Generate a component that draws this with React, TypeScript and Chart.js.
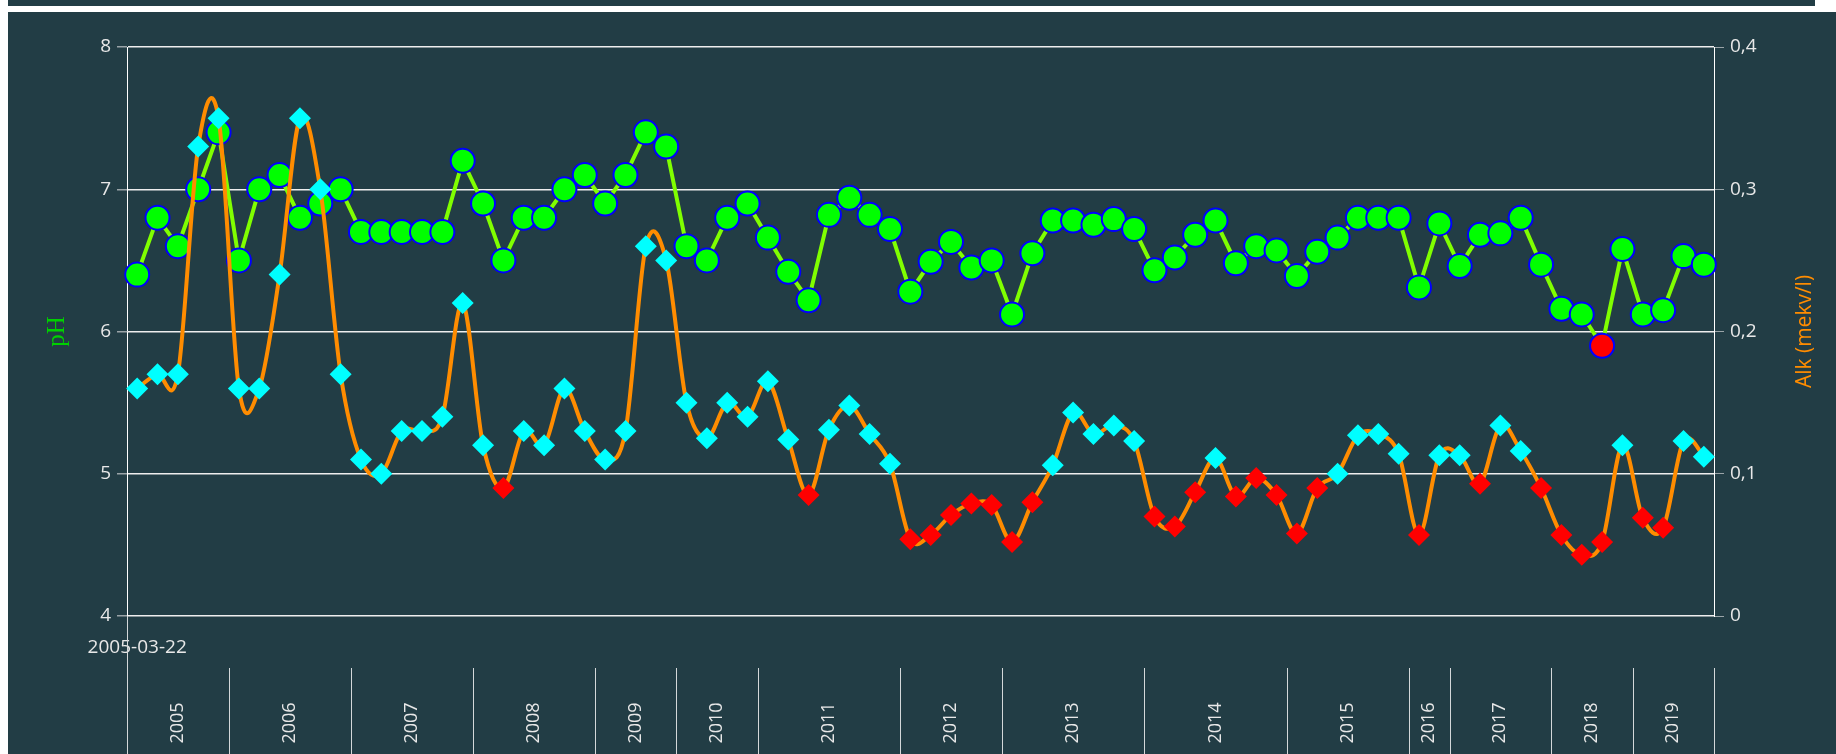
import React, { useEffect, useRef } from 'react';
import { Chart, registerables } from 'chart.js';

Chart.register(...registerables);

// ---------- data ----------
const firstDate = '2005-03-22';
const yearLabels = ['2005', '2006', '2007', '2008', '2009', '2010', '2011', '2012', '2013', '2014', '2015', '2016', '2017', '2018', '2019'];
const yearCounts = [5, 6, 6, 6, 4, 4, 7, 5, 7, 7, 6, 2, 5, 4, 4];

const phValues = [
  6.4, 6.8, 6.6, 7.0, 7.4, 6.5, 7.0, 7.1, 6.8, 6.9, 7.0, 6.7, 6.7, 6.7, 6.7, 6.7,
  7.2, 6.9, 6.5, 6.8, 6.8, 7.0, 7.1, 6.9, 7.1, 7.4, 7.3, 6.6, 6.5, 6.8, 6.9,
  6.66, 6.42, 6.22, 6.82, 6.94, 6.82, 6.72, 6.28, 6.49, 6.63, 6.45, 6.5, 6.12, 6.55, 6.78, 6.78,
  6.75, 6.79, 6.72, 6.43, 6.52, 6.68, 6.78, 6.48, 6.6, 6.57, 6.39, 6.56, 6.66, 6.8, 6.8, 6.8,
  6.31, 6.76, 6.46, 6.68, 6.69, 6.8, 6.47, 6.16, 6.12, 5.9, 6.58, 6.12, 6.15, 6.53, 6.47,
];

const alkValues = [
  0.16, 0.17, 0.17, 0.33, 0.35, 0.16, 0.16, 0.24, 0.35, 0.30, 0.17, 0.11, 0.10, 0.13, 0.13, 0.14,
  0.22, 0.12, 0.09, 0.13, 0.12, 0.16, 0.13, 0.11, 0.13, 0.26, 0.25, 0.15, 0.125, 0.15, 0.14,
  0.165, 0.124, 0.085, 0.131, 0.148, 0.128, 0.107, 0.054, 0.057, 0.071, 0.079, 0.078, 0.052, 0.080, 0.106, 0.143,
  0.128, 0.134, 0.123, 0.070, 0.063, 0.087, 0.111, 0.084, 0.097, 0.085, 0.058, 0.090, 0.100, 0.127, 0.128, 0.114,
  0.057, 0.113, 0.113, 0.093, 0.134, 0.116, 0.090, 0.057, 0.043, 0.052, 0.120, 0.069, 0.062, 0.123, 0.112,
];

const phTicks = [4, 5, 6, 7, 8];
const alkTicks = [0, 0.1, 0.2, 0.3, 0.4];
const alkTickLabels = ['0', '0,1', '0,2', '0,3', '0,4'];
const phTitle = 'pH';
const alkTitle = 'Alk (mekv/l)';
const phLimit = 6;
const alkLimit = 0.1;

const categories: string[] = yearLabels.flatMap((y, i) => Array(yearCounts[i]).fill(y));

// ---------- styles ----------
const BG = '#223d45';
const TEXT = '#e8e8e8';
const GRID = '#eeeeee';
const TICKMARK = '#9aa4a8';
const SANS = "'Open Sans', sans-serif";
const SMOOTH = 1 / 6;

export default function App() {
  const ref = useRef<HTMLCanvasElement>(null);

  useEffect(() => {
    const canvas = ref.current;
    if (!canvas) return;

    // Excel-like smoothing: control points from neighbouring points (uniform Catmull-Rom)
    const smoothPlugin = {
      id: 'excelSmooth',
      beforeDatasetDraw(chart: any, args: any) {
        const ds: any = chart.data.datasets[args.index];
        if (!ds.excelSmooth) return;
        const meta = args.meta;
        const pts = meta.data;
        const n = pts.length;
        for (let i = 0; i < n; i++) {
          const p = pts[i];
          const prev = pts[Math.max(0, i - 1)];
          const next = pts[Math.min(n - 1, i + 1)];
          const dx = (next.x - prev.x) * SMOOTH;
          const dy = (next.y - prev.y) * SMOOTH;
          p.cp1x = p.x - dx;
          p.cp1y = p.y - dy;
          p.cp2x = p.x + dx;
          p.cp2y = p.y + dy;
        }
        meta.dataset._pointsUpdated = true;
        meta.dataset._path = undefined;
      },
    };

    const bandPlugin = {
      id: 'yearBand',
      afterDraw(chart: any) {
        const { ctx, chartArea } = chart;
        const xs = chart.scales.x;
        const y1 = chart.scales.y1;
        const bandTop = chartArea.bottom + 52;
        const bottom = chart.height;
        ctx.save();
        // separators
        ctx.strokeStyle = '#d4d8d9';
        ctx.lineWidth = 1;
        let idx = 0;
        const bounds: number[] = [xs.getPixelForValue(-0.5)];
        yearCounts.forEach((c) => {
          idx += c;
          bounds.push(xs.getPixelForValue(idx - 0.5));
        });
        bounds.forEach((b, i) => {
          const x = Math.round(b) + 0.5;
          ctx.beginPath();
          ctx.moveTo(x, i === 0 ? chartArea.bottom : bandTop);
          ctx.lineTo(x, bottom);
          ctx.stroke();
        });
        // year labels
        ctx.fillStyle = TEXT;
        ctx.font = `18px ${SANS}`;
        ctx.textAlign = 'center';
        ctx.textBaseline = 'middle';
        yearLabels.forEach((y, i) => {
          const cx = (bounds[i] + bounds[i + 1]) / 2;
          ctx.save();
          ctx.translate(cx, bandTop + 55);
          ctx.rotate(-Math.PI / 2);
          ctx.fillText(y, 0, 0);
          ctx.restore();
        });
        // right axis title (reads bottom-to-top)
        ctx.fillStyle = '#ff8c00';
        ctx.font = `21px ${SANS}`;
        ctx.save();
        ctx.translate(y1.right - 31, (chartArea.top + chartArea.bottom) / 2);
        ctx.rotate(-Math.PI / 2);
        ctx.fillText(alkTitle, 0, 0);
        ctx.restore();
        ctx.restore();
      },
    };

    const chart = new Chart(canvas, {
      type: 'line',
      data: {
        labels: categories,
        datasets: [
          {
            label: alkTitle,
            data: alkValues,
            yAxisID: 'y1',
            borderColor: '#ff8c00',
            borderWidth: 4,
            tension: 0.4,
            excelSmooth: true,
            pointStyle: 'rectRot',
            pointRadius: 11,
            pointBorderWidth: 0,
            pointBackgroundColor: (c: any) => ((c.raw as number) < alkLimit ? '#ff0000' : '#00ffff'),
            pointBorderColor: (c: any) => ((c.raw as number) < alkLimit ? '#ff0000' : '#00ffff'),
          } as any,
          {
            label: phTitle,
            data: phValues,
            yAxisID: 'y',
            borderColor: '#80ff00',
            borderWidth: 4,
            tension: 0,
            pointStyle: 'circle',
            pointRadius: 12,
            pointBorderWidth: 2,
            pointBackgroundColor: (c: any) => ((c.raw as number) < phLimit ? '#ff0000' : '#00ff00'),
            pointBorderColor: '#0000ff',
          },
        ],
      },
      options: {
        animation: false,
        responsive: false,
        events: [],
        layout: { padding: { top: 35, left: 0, right: 0, bottom: 0 } },
        plugins: { legend: { display: false }, tooltip: { enabled: false } },
        scales: {
          x: {
            type: 'category',
            offset: true,
            grid: { display: false, drawTicks: false },
            border: { display: false },
            ticks: {
              autoSkip: false,
              maxRotation: 0,
              minRotation: 0,
              padding: 20,
              color: TEXT,
              font: { family: SANS, size: 19 },
              callback: (_v: any, i: number) => (i === 0 ? firstDate : ''),
            },
            afterFit: (s: any) => { s.height = 138; },
          },
          y: {
            position: 'left',
            min: 4,
            max: 8,
            afterBuildTicks: (s: any) => { s.ticks = phTicks.map((value) => ({ value })); },
            grid: { color: GRID, lineWidth: 1.5, tickColor: TICKMARK, tickLength: 10 },
            border: { color: '#ffffff', width: 1 },
            ticks: { color: TEXT, font: { family: SANS, size: 19 }, padding: 6 },
            title: {
              display: true,
              text: phTitle,
              color: '#00d000',
              font: { family: "'Liberation Serif', serif", size: 25 },
              padding: { top: 34, bottom: 0 },
            },
            afterFit: (s: any) => { s.width = 119; },
          },
          y1: {
            position: 'right',
            min: 0,
            max: 0.4,
            afterBuildTicks: (s: any) => { s.ticks = alkTicks.map((value) => ({ value })); },
            grid: { drawOnChartArea: false, tickColor: TICKMARK, tickLength: 10 },
            border: { color: '#ffffff', width: 1 },
            ticks: {
              color: TEXT,
              font: { family: SANS, size: 19 },
              padding: 6,
              callback: (_v: any, i: number) => alkTickLabels[i],
            },
            afterFit: (s: any) => { s.width = 122; },
          },
        },
      } as any,
      plugins: [smoothPlugin, bandPlugin],
    });
    return () => chart.destroy();
  }, []);

  return (
    <div style={{ position: 'fixed', left: 0, top: 0, width: '100vw', height: '100vh', overflow: 'hidden', background: '#ffffff' }}>
      <div style={{ position: 'absolute', left: 8, top: 0, width: 1807, height: 6, background: BG }} />
      <div style={{ position: 'absolute', left: 8, top: 12, width: 1828, height: 742, background: BG }}>
        <canvas ref={ref} width={1828} height={742} style={{ display: 'block' }} />
      </div>
    </div>
  );
}
